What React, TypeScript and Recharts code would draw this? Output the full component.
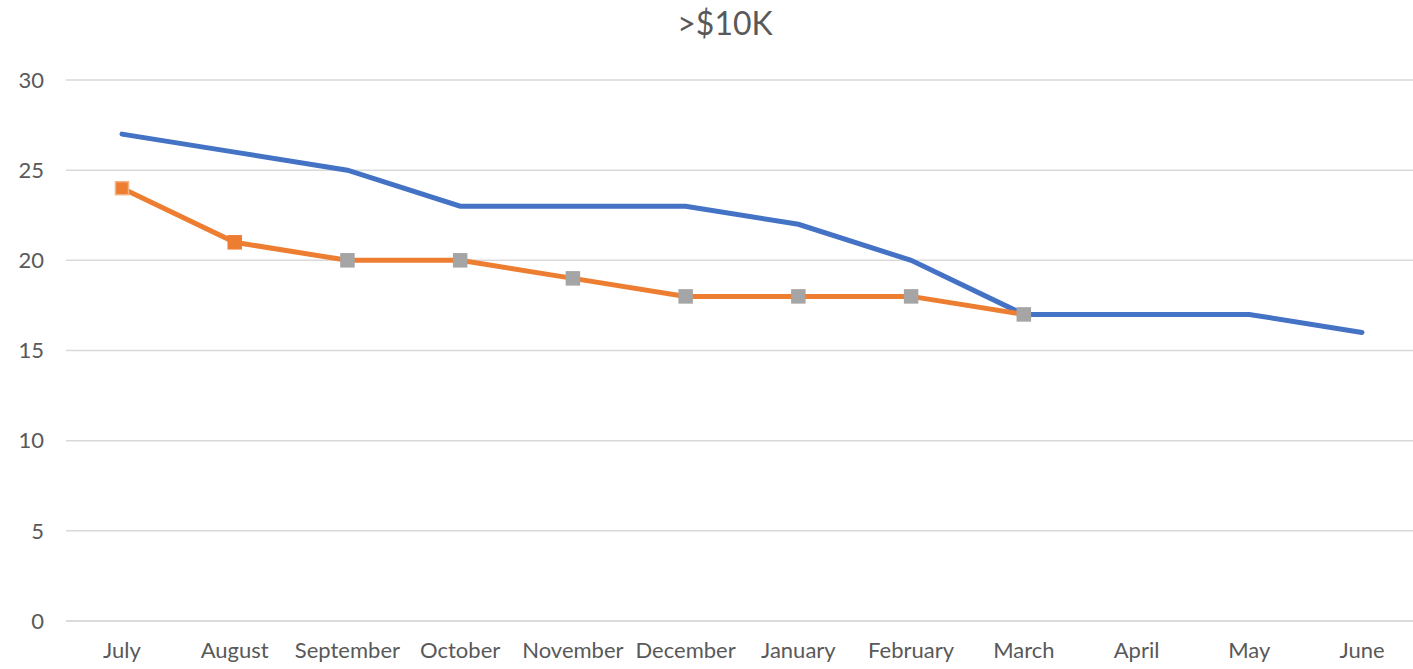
import React from 'react';
import { LineChart, Line, XAxis, YAxis, CartesianGrid } from 'recharts';

const months = ['July', 'August', 'September', 'October', 'November', 'December', 'January', 'February', 'March', 'April', 'May', 'June'];
const blueValues = [27, 26, 25, 23, 23, 23, 22, 20, 17, 17, 17, 16];
const orangeValues: (number | null)[] = [24, 21, 20, 20, 19, 18, 18, 18, 17, null, null, null];
const yTicks = [0, 5, 10, 15, 20, 25, 30];
const title = '>$10K';

const data = months.map((m, i) => ({ month: m, blue: blueValues[i], orange: orangeValues[i] }));

const FONT = 'Lato, "Open Sans", sans-serif';

const SquareDot = (props: any) => {
  const { cx, cy, index, value } = props;
  if (value === null || value === undefined || cx == null || cy == null) return <g key={`d${index}`} />;
  const fill = index < 2 ? '#ED7D31' : '#A5A5A5';
  const stroke = index === 0 ? '#F4B183' : fill;
  const s = 13;
  return <rect key={`d${index}`} x={cx - s / 2} y={cy - s / 2} width={s} height={s} fill={fill} stroke={stroke} strokeWidth={1.5} />;
};

export default function App() {
  return (
    <div style={{ position: 'absolute', left: 0, top: 0, width: 1413, height: 669, overflow: 'hidden', background: '#fff' }}>
      <div style={{ position: 'absolute', left: 0, top: 3, width: 1450, textAlign: 'center', fontFamily: FONT, fontSize: 32, color: '#595959' }}>
        {title}
      </div>
      <LineChart width={1420} height={669} data={data} margin={{ top: 80, right: 2, bottom: 0, left: 0 }}>
        <CartesianGrid vertical={false} stroke="#d9d9d9" strokeWidth={1.5} />
        <XAxis
          dataKey="month"
          height={48}
          tickSize={0}
          tickMargin={21}
          padding={{ left: 56, right: 56 }}
          axisLine={{ stroke: '#d9d9d9', strokeWidth: 1.5 }}
          tick={{ fill: '#595959', fontSize: 22, fontFamily: FONT }}
          interval={0}
        />
        <YAxis
          width={66}
          domain={[0, 30]}
          ticks={yTicks}
          tickSize={0}
          tickMargin={22}
          axisLine={false}
          tick={{ fill: '#595959', fontSize: 22, fontFamily: FONT }}
        />
        <Line dataKey="blue" stroke="#4472C4" strokeWidth={5} dot={false} isAnimationActive={false} strokeLinecap="round" />
        <Line dataKey="orange" stroke="#ED7D31" strokeWidth={5} dot={<SquareDot />} activeDot={false} isAnimationActive={false} connectNulls={false} />
      </LineChart>
    </div>
  );
}
